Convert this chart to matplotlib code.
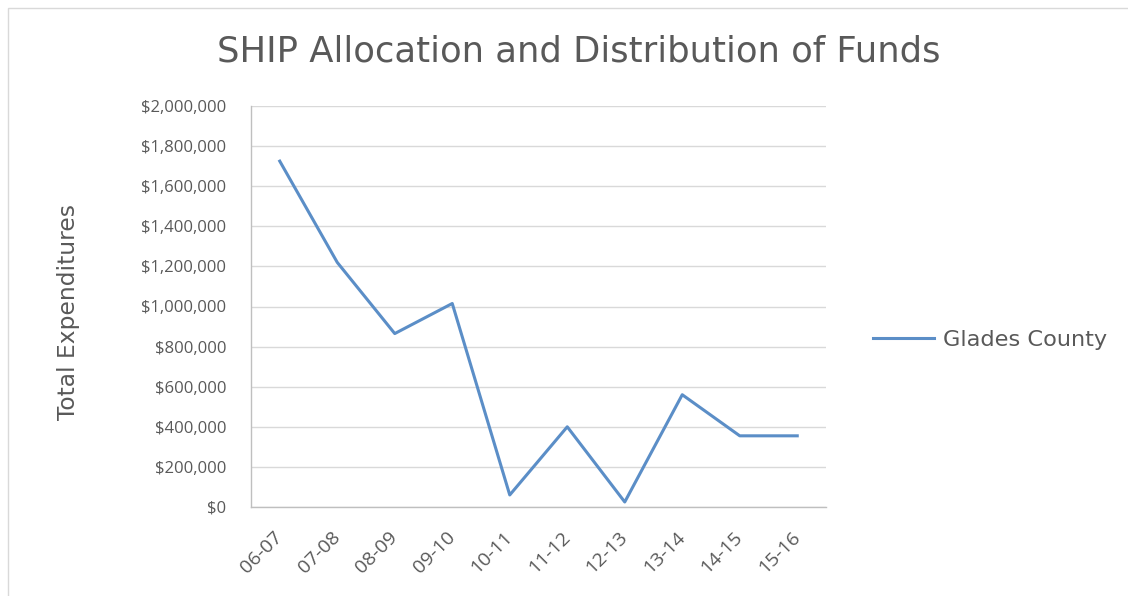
import matplotlib
matplotlib.use("Agg")
import matplotlib.pyplot as plt
from matplotlib.ticker import FuncFormatter, MultipleLocator
from matplotlib.patches import Rectangle

# data
years = ["06-07", "07-08", "08-09", "09-10", "10-11",
         "11-12", "12-13", "13-14", "14-15", "15-16"]
glades = [1725000, 1220000, 865000, 1015000, 60000,
          400000, 25000, 560000, 355000, 355000]

plt.rcParams['font.family'] = ['Open Sans', 'DejaVu Sans']
text_gray = '#595959'

fig = plt.figure(figsize=(11.28, 5.96), dpi=100)

# light frame of the chart area (top and left edges visible)
fig.patches.append(Rectangle((8 / 1128, -0.05), 1.2, (588 / 596) + 0.05,
                             transform=fig.transFigure, fill=False,
                             edgecolor='#D9D9D9', linewidth=1))

ax = fig.add_axes([251 / 1128, 89 / 596, 575 / 1128, 401 / 596])

x = list(range(len(years)))
ax.plot(x, glades, color='#5B8EC7', linewidth=2.2, label='Glades County')

ax.set_xlim(-0.5, len(years) - 0.5)
ax.set_ylim(0, 2000000)
ax.yaxis.set_major_locator(MultipleLocator(200000))
ax.yaxis.set_major_formatter(FuncFormatter(lambda v, p: "${:,.0f}".format(v)))
ax.grid(axis='y', color='#D9D9D9', linewidth=1)
ax.set_axisbelow(True)

for s in ['top', 'right']:
    ax.spines[s].set_visible(False)
for s in ['left', 'bottom']:
    ax.spines[s].set_color('#BFBFBF')
    ax.spines[s].set_linewidth(1)

ax.set_xticks(x)
ax.set_xticklabels(years, rotation=45, ha='right', va='center',
                   rotation_mode='anchor')
ax.tick_params(axis='x', length=0, pad=20, labelsize=14, labelcolor=text_gray)
ax.tick_params(axis='y', length=0, pad=18, labelsize=12, labelcolor=text_gray)

fig.text(68 / 1128, 1 - 312 / 596, 'Total Expenditures', rotation=90,
         ha='center', va='center', fontsize=16.8, color=text_gray,
         family='DejaVu Sans')
fig.text(579 / 1128, 1 - 52 / 596, 'SHIP Allocation and Distribution of Funds',
         ha='center', va='center', fontsize=25.5, color=text_gray,
         family='DejaVu Sans')

leg = ax.legend(loc='center left',
                bbox_to_anchor=(1 + (873 - 826) / 575, (507 - 340) / 401),
                frameon=False, borderpad=0, borderaxespad=0,
                prop={'family': 'DejaVu Sans', 'size': 16.2},
                handlelength=2.7, handletextpad=0.4)
for t in leg.get_texts():
    t.set_color(text_gray)

fig.savefig('out.png', dpi=100, facecolor='white')
